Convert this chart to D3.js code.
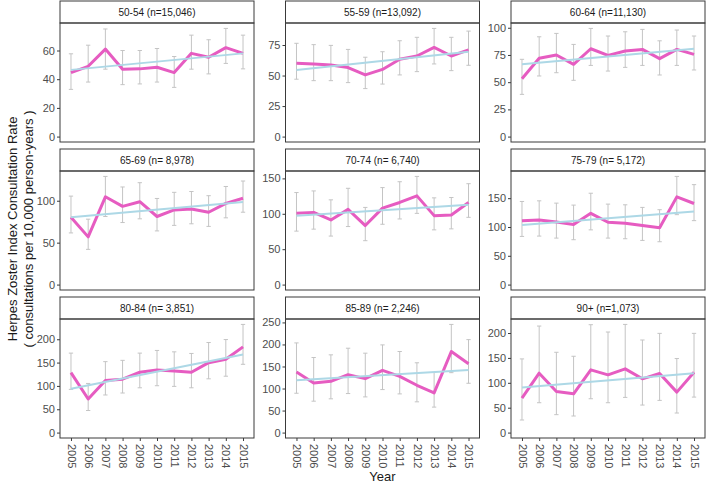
<!DOCTYPE html>
<html>
<head>
<meta charset="utf-8">
<script src="https://cdn.jsdelivr.net/npm/d3@7"></script>
<style>
  body { margin: 0; background: #fff; }
  text { font-family: "Liberation Sans", Arial, sans-serif; }
</style>
</head>
<body>
<div id="main"></div>
<script>
var years = [2005, 2006, 2007, 2008, 2009, 2010, 2011, 2012, 2013, 2014, 2015];

var panelLabels = ['50-54 (n=15,046)', '55-59 (n=13,092)', '60-64 (n=11,130)',
  '65-69 (n= 8,978)', '70-74 (n= 6,740)', '75-79 (n= 5,172)',
  '80-84 (n= 3,851)', '85-89 (n= 2,246)', '90+ (n=1,073)'];

// consultation rate per panel, one value per year
var rates = [
  [44.6, 49, 61, 47, 47.2, 48.3, 44.6, 58, 55.3, 62, 58],
  [60, 59.5, 58.6, 56.5, 50.5, 55, 63.3, 66, 73, 66, 71],
  [53.2, 71.9, 75, 66.4, 80.7, 74.6, 78.6, 80.1, 71.6, 80.1, 75.5],
  [80.4, 56.9, 104.7, 93.3, 98.8, 81.2, 89, 90.2, 86.3, 96.9, 103],
  [100.6, 102, 91.3, 106.2, 83.4, 108, 116, 125.3, 97.4, 98.3, 116],
  [111, 112.2, 108.8, 104.2, 123.7, 108.2, 106.5, 102.5, 98.5, 152.3, 140.8],
  [128.6, 72, 111.7, 114.5, 129.3, 134.3, 132.2, 129.3, 149.8, 157, 183.7],
  [137.4, 112.6, 116.4, 131.4, 122.4, 141.2, 127.6, 107.4, 90, 184, 156.2],
  [69.3, 119.3, 82.7, 78, 126, 116, 128, 108, 118.7, 81.3, 121.3]
];

var lower = [
  [32.9, 38, 47, 36.2, 36.7, 38, 34.3, 47, 43.7, 51, 47.2],
  [47, 45.8, 45.8, 44.2, 39.3, 43, 50.5, 53.2, 59.5, 54, 58.4],
  [38.8, 55.7, 58.7, 51.7, 65.4, 60.2, 63.6, 65.4, 56.6, 65.4, 61.2],
  [61.6, 42, 81.2, 74, 78.4, 64, 70.6, 72.5, 69.4, 79.6, 86.3],
  [75.5, 78.3, 68.5, 82, 62, 85.2, 92.7, 100.6, 77.3, 78.7, 95],
  [83.6, 84.2, 80.7, 77.9, 95, 80.7, 79.6, 76.7, 74.4, 121.4, 111],
  [92.6, 47.3, 80.6, 84.8, 96, 100.4, 99, 96, 115.2, 120.8, 146.3],
  [89.3, 71.3, 76.6, 88.6, 81, 97.6, 87.8, 69.8, 57.8, 136, 111.9],
  [25.3, 60, 36, 33.3, 68, 60, 70.7, 55.3, 64.7, 39.3, 71.3]
];

var upper = [
  [57.7, 63.7, 75, 60, 60, 61.4, 55.8, 70.7, 67.5, 75.4, 70.7],
  [76.4, 75.3, 74.7, 71.4, 65, 69.5, 78.5, 81.3, 88.6, 81.3, 86.4],
  [71, 91.7, 94.8, 84.7, 99.4, 92.4, 96.3, 98.5, 88, 97.9, 92.4],
  [105.5, 78, 129, 116.4, 121.5, 102.7, 110, 111, 106, 117, 123.5],
  [130, 132.3, 119.7, 136, 109, 137, 145.3, 152.8, 122.5, 123, 142.5],
  [144.3, 145.4, 141.4, 138, 158.6, 139.7, 138.5, 134, 130, 187.8, 173.5],
  [170.3, 105.3, 152, 154.8, 170.3, 176, 173, 169.6, 193, 199.3, 231.8],
  [203.5, 170.4, 176.4, 191.5, 180.2, 199, 184, 158.4, 136.6, 245.5, 211],
  [148, 214, 161.3, 153.3, 216.7, 202, 217.3, 186, 199.3, 148.7, 199.3]
];

// linear trend, value at 2005 and at 2015
var trendEnds = [
  [46.5, 58], [54.5, 69.5], [66.4, 80.7],
  [80.4, 98.4], [97.4, 112.7], [103.6, 127],
  [94, 167.5], [118.6, 141.9], [90.7, 119.3]
];

var yTicks = [
  [0, 20, 40, 60], [0, 25, 50, 75], [0, 25, 50, 75, 100],
  [0, 50, 100], [0, 50, 100, 150], [0, 50, 100, 150],
  [0, 50, 100, 150, 200], [0, 50, 100, 150, 200, 250], [0, 50, 100, 150, 200]
];

var W = 707, H = 485;
var marginLeft = 60, marginTop = 1, panelW = 194, colStep = 225.5;
var stripH = 22, panelH = 119, rowStep = 148;
var capHalf = 0.125;
var border = '#3a3a3a';
var fontFam = '"Liberation Sans", Arial, sans-serif';

var svg = d3.select('#main').append('svg')
    .attr('width', W)
    .attr('height', H);

// x range covers the error bar caps plus ggplot's 5% padding
var xMin = d3.min(years) - capHalf, xMax = d3.max(years) + capHalf;
var xPad = (xMax - xMin) * 0.05;
var x = d3.scaleLinear().domain([xMin - xPad, xMax + xPad]).range([0, panelW]);

panelLabels.forEach(function(label, i) {
  var col = i % 3, row = Math.floor(i / 3);
  var g = svg.append('g')
      .attr('transform', 'translate(' + (marginLeft + col * colStep) + ',' + (marginTop + row * rowStep) + ')');

  // strip
  g.append('rect')
      .attr('width', panelW).attr('height', stripH)
      .attr('fill', '#fff').attr('stroke', border).attr('stroke-width', 1);
  g.append('text')
      .attr('x', panelW / 2).attr('y', stripH / 2)
      .attr('dy', '0.35em')
      .attr('text-anchor', 'middle')
      .attr('font-size', 10)
      .attr('fill', '#1a1a1a')
      .text(label);

  var p = g.append('g').attr('transform', 'translate(0,' + stripH + ')');

  var M = d3.max(upper[i]);
  var y = d3.scaleLinear().domain([-0.05 * M, 1.05 * M]).range([panelH, 0]);

  var yAxis = p.append('g').call(d3.axisLeft(y).tickValues(yTicks[i]).tickSize(3).tickPadding(2));
  yAxis.select('.domain').remove();
  yAxis.selectAll('line').attr('stroke', border);
  yAxis.selectAll('text').attr('fill', '#4d4d4d').attr('font-size', 11)
      .attr('font-family', fontFam);

  if (row === 2) {
    var xAxis = p.append('g')
        .attr('transform', 'translate(0,' + panelH + ')')
        .call(d3.axisBottom(x).tickValues(years).tickFormat(d3.format('d')).tickSize(3));
    xAxis.select('.domain').remove();
    xAxis.selectAll('line').attr('stroke', border);
    xAxis.selectAll('text')
        .attr('fill', '#4d4d4d').attr('font-size', 11)
        .attr('font-family', fontFam)
        .attr('transform', 'rotate(90)')
        .attr('x', 6).attr('y', 0).attr('dy', '0.35em')
        .attr('text-anchor', 'start');
  }

  var pts = years.map(function(yr, j) {
    return { year: yr, rate: rates[i][j], lo: lower[i][j], hi: upper[i][j] };
  });

  // error bars
  var eb = p.append('g').attr('stroke', '#c4c4c4').attr('stroke-width', 1).attr('fill', 'none');
  eb.selectAll('path').data(pts).enter().append('path')
      .attr('d', function(d) {
        var x0 = x(d.year - capHalf), x1 = x(d.year + capHalf), xc = x(d.year);
        return 'M' + x0 + ',' + y(d.hi) + 'H' + x1 +
               'M' + xc + ',' + y(d.hi) + 'V' + y(d.lo) +
               'M' + x0 + ',' + y(d.lo) + 'H' + x1;
      });

  var line = d3.line()
      .x(function(d) { return x(d.year); })
      .y(function(d) { return y(d.rate); });

  p.append('path').datum(pts)
      .attr('d', line)
      .attr('fill', 'none')
      .attr('stroke', '#e65cc1')
      .attr('stroke-width', 3)
      .attr('stroke-linejoin', 'round');

  var trend = [
    { year: years[0], rate: trendEnds[i][0] },
    { year: years[years.length - 1], rate: trendEnds[i][1] }
  ];
  p.append('path').datum(trend)
      .attr('d', line)
      .attr('fill', 'none')
      .attr('stroke', '#add8e6')
      .attr('stroke-width', 2);

  // panel border on top
  p.append('rect')
      .attr('width', panelW).attr('height', panelH)
      .attr('fill', 'none').attr('stroke', border).attr('stroke-width', 1);
});

// axis titles
var yTitle = svg.append('g').attr('transform', 'translate(0,229) rotate(-90)');
yTitle.append('text')
    .attr('x', 0).attr('y', 12).attr('dy', '0.35em')
    .attr('text-anchor', 'middle').attr('font-size', 13).attr('fill', '#1a1a1a')
    .text('Herpes Zoster Index Consultation Rate');
yTitle.append('text')
    .attr('x', 0).attr('y', 28).attr('dy', '0.35em')
    .attr('text-anchor', 'middle').attr('font-size', 13).attr('fill', '#1a1a1a')
    .text('( consultations per 10,000 person-years )');

svg.append('text')
    .attr('x', marginLeft + (2 * colStep + panelW) / 2).attr('y', 476).attr('dy', '0.35em')
    .attr('text-anchor', 'middle').attr('font-size', 13).attr('fill', '#1a1a1a')
    .text('Year');
</script>
</body>
</html>
